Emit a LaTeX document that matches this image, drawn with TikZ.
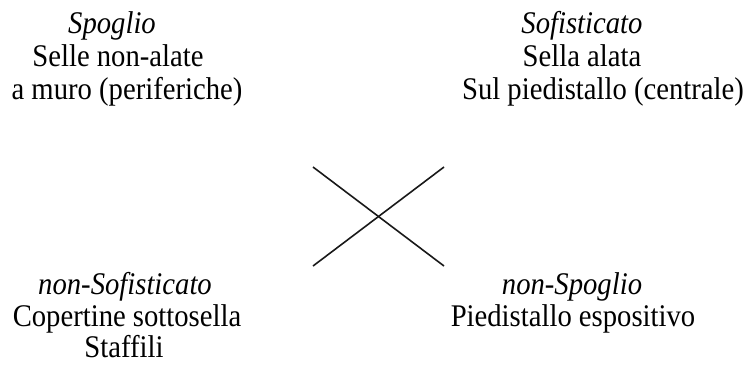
\documentclass[tikz,border=0pt]{standalone}
\usepackage{fontspec}
\setmainfont{Liberation Serif}[FakeStretch=0.91]
\begin{document}
\begin{tikzpicture}[x=1bp,y=-1bp,
  txt/.style={anchor=base,inner sep=0pt,font=\fontsize{31.5bp}{33bp}\selectfont},
  ital/.style={txt,font=\fontsize{31.5bp}{33bp}\selectfont\itshape},
  crossline/.style={line width=1.6bp,draw=black!90}]
\useasboundingbox (0,0) rectangle (745,365);
% top left
\node[ital] (tl1) at (112,33) {Spoglio};
\node[txt]  (tl2) at (118,66) {Selle non-alate};
\node[txt]  (tl3) at (127,99) {a muro (periferiche)};
% top right
\node[ital] (tr1) at (582,33) {Sofisticato};
\node[txt]  (tr2) at (582,66) {Sella alata};
\node[txt]  (tr3) at (603,99) {Sul piedistallo (centrale)};
% bottom left
\node[ital] (bl1) at (125,294) {non-Sofisticato};
\node[txt]  (bl2) at (127,326) {Copertine sottosella};
\node[txt]  (bl3) at (124,357) {Staffili};
% bottom right
\node[ital] (br1) at (572,294) {non-Spoglio};
\node[txt]  (br2) at (573,326) {Piedistallo espositivo};
% cross
\coordinate (a1) at (313,167);
\coordinate (a2) at (444,266);
\coordinate (b1) at (313,266);
\coordinate (b2) at (444,167);
\draw[crossline] (a1) -- (a2);
\draw[crossline] (b1) -- (b2);
\end{tikzpicture}
\end{document}
